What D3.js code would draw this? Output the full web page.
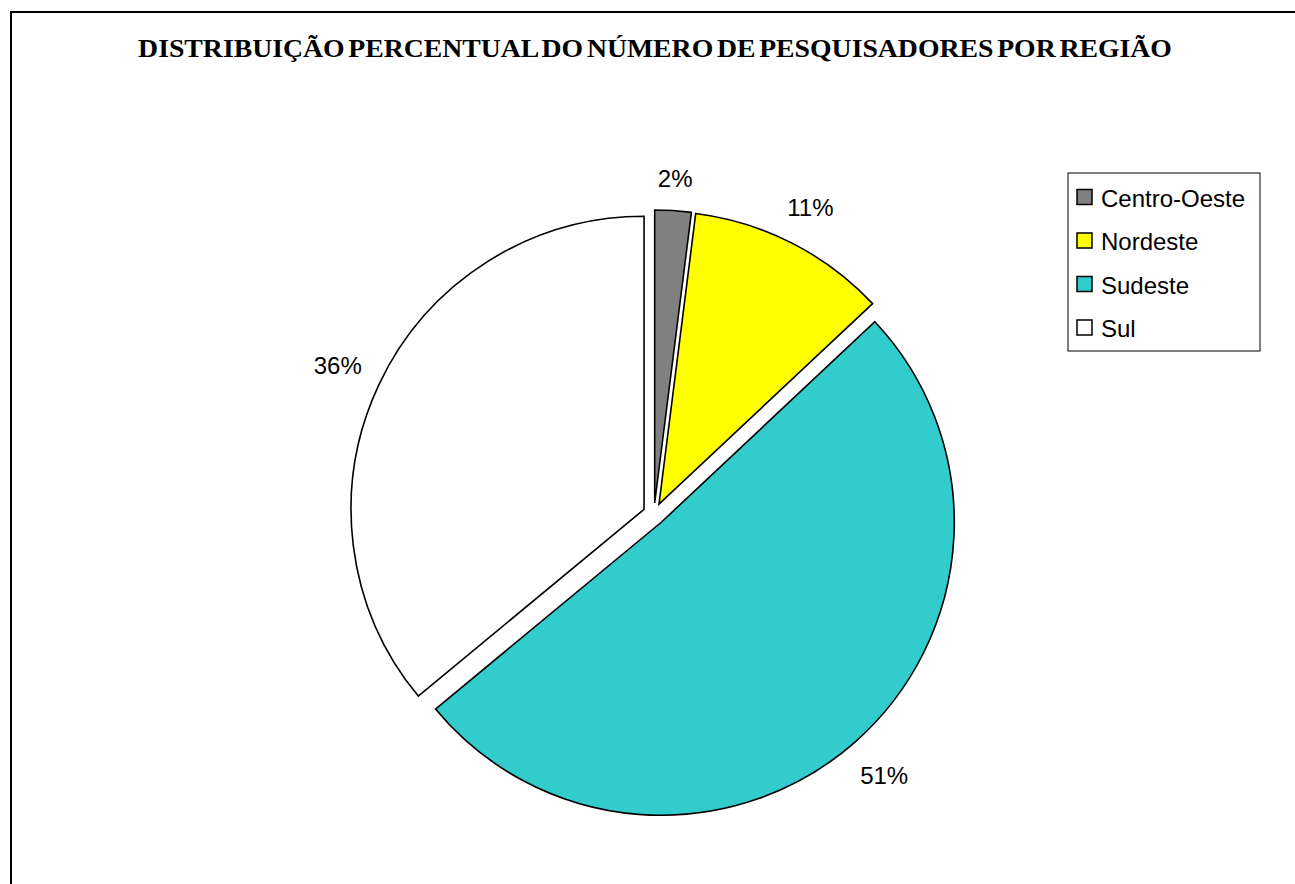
<!DOCTYPE html>
<html>
<head>
<meta charset="utf-8">
<script src="https://cdn.jsdelivr.net/npm/d3@7"></script>
<style>
	body { margin: 0; background: #fff; }
	svg { display: block; }
</style>
</head>
<body>
<div id="chart"></div>
<script>

var regions = ["Centro-Oeste", "Nordeste", "Sudeste", "Sul"];
var shares  = [2, 11, 51, 36];
var colors  = ["#808080", "#ffff00", "#33cccc", "#ffffff"];
var title   = "DISTRIBUIÇÃO PERCENTUAL DO NÚMERO DE PESQUISADORES POR REGIÃO";

var width = 1295, height = 884;
var cx = 654, cy = 514;
var radius = 293;
var explode = 11;
var labelGap = 18;

var svg = d3.select("#chart")
	.append("svg")
	.attr("width", width)
	.attr("height", height);

// outer frame (runs off the right and bottom edges)
svg.append("rect")
	.attr("x", 11)
	.attr("y", 12)
	.attr("width", 1300)
	.attr("height", 900)
	.attr("fill", "#fff")
	.attr("stroke", "#000")
	.attr("stroke-width", 2);

// title: squeeze horizontally to the span of the original
var titleText = svg.append("text")
	.attr("x", 0)
	.attr("y", 0)
	.attr("text-anchor", "middle")
	.attr("font-family", "'Liberation Serif', 'Times New Roman', serif")
	.attr("font-weight", "bold")
	.attr("font-size", 26)
	.attr("word-spacing", -3)
	.text(title);

var tw = titleText.node().getBBox().width;
titleText.attr("transform", "translate(655,57) scale(" + (1034 / tw) + ",1)");

var pie = d3.pie().sort(null).value(function(d) { return d; });
var arcs = pie(shares);

var arc = d3.arc().innerRadius(0).outerRadius(radius);

function midDir(d) {
	var a = (d.startAngle + d.endAngle) / 2;
	return [Math.sin(a), -Math.cos(a)];
}

var g = svg.append("g")
	.attr("transform", "translate(" + cx + "," + cy + ")");

g.selectAll("path")
	.data(arcs)
	.enter()
	.append("path")
	.attr("d", arc)
	.attr("transform", function(d) {
		var u = midDir(d);
		return "translate(" + (u[0] * explode) + "," + (u[1] * explode) + ")";
	})
	.attr("fill", function(d, i) { return colors[i]; })
	.attr("stroke", "#000")
	.attr("stroke-width", 1.6)
	.attr("stroke-linejoin", "miter");

// labels sit outside the exploded slice, pushed out by half their box size
g.selectAll("text.pct")
	.data(arcs)
	.enter()
	.append("text")
	.attr("class", "pct")
	.attr("text-anchor", "middle")
	.attr("dominant-baseline", "central")
	.attr("font-family", "'Liberation Sans', Arial, sans-serif")
	.attr("font-size", 24)
	.text(function(d) { return d.data + "%"; })
	.attr("transform", function(d) {
		var u = midDir(d);
		var bb = this.getBBox();
		var r = explode + radius + labelGap + Math.abs(u[0]) * bb.width / 2 + Math.abs(u[1]) * bb.height / 2;
		return "translate(" + (u[0] * r) + "," + (u[1] * r) + ")";
	});

// legend
var legend = svg.append("g")
	.attr("transform", "translate(1068,173)");

legend.append("rect")
	.attr("width", 192)
	.attr("height", 178)
	.attr("fill", "#fff")
	.attr("stroke", "#000")
	.attr("stroke-width", 1);

var rows = legend.selectAll("g.row")
	.data(regions)
	.enter()
	.append("g")
	.attr("class", "row")
	.attr("transform", function(d, i) { return "translate(0," + (24 + i * 43.5) + ")"; });

rows.append("rect")
	.attr("x", 9)
	.attr("y", -7.5)
	.attr("width", 15)
	.attr("height", 15)
	.attr("fill", function(d, i) { return colors[i]; })
	.attr("stroke", "#000")
	.attr("stroke-width", 1.5);

rows.append("text")
	.attr("x", 33)
	.attr("y", 1)
	.attr("dominant-baseline", "central")
	.attr("font-family", "'Liberation Sans', Arial, sans-serif")
	.attr("font-size", 24)
	.text(function(d) { return d; });

</script>
</body>
</html>
